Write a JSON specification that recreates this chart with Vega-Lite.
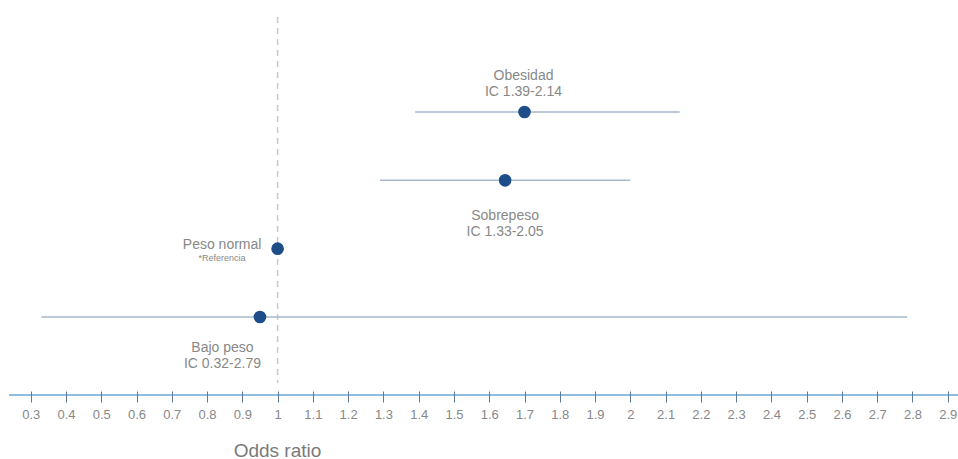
{
  "$schema": "https://vega.github.io/schema/vega-lite/v6.json",
  "width": 949,
  "height": 378,
  "autosize": {"type": "none"},
  "padding": {"left": 9, "top": 17, "right": 0, "bottom": 64},
  "background": "white",
  "config": {"view": {"stroke": null}, "font": "Liberation Sans"},
  "datasets": {
    "or": [
      {"grupo": "Obesidad", "or": 1.70, "lo": 1.39, "hi": 2.14, "etiqueta": "Obesidad\nIC 1.39-2.14"},
      {"grupo": "Sobrepeso", "or": 1.645, "lo": 1.29, "hi": 2.00, "etiqueta": "Sobrepeso\nIC 1.33-2.05"},
      {"grupo": "Peso normal", "or": 1.0, "lo": null, "hi": null, "etiqueta": "Peso normal", "nota": "*Referencia"},
      {"grupo": "Bajo peso", "or": 0.95, "lo": 0.33, "hi": 2.785, "etiqueta": "Bajo peso\nIC 0.32-2.79"}
    ]
  },
  "layer": [
    {
      "data": {"values": [{"ref": 1}]},
      "layer": [
        {
          "mark": {"type": "rule", "color": "#c9c9c9", "strokeWidth": 1.5, "strokeDash": [6, 5]},
          "encoding": {
            "x": {"field": "ref", "type": "quantitative"},
            "y": {"datum": 100, "type": "quantitative", "scale": {"domain": [0, 100]}, "axis": null},
            "y2": {"datum": 3.2}
          }
        },
        {
          "mark": {"type": "rule", "color": "#8fbde0", "strokeWidth": 2},
          "encoding": {
            "y": {"datum": 0, "type": "quantitative", "scale": {"domain": [0, 100]}, "axis": null}
          }
        }
      ]
    },
    {
      "data": {"name": "or"},
      "encoding": {
        "y": {
          "field": "grupo",
          "type": "nominal",
          "sort": ["Obesidad", "Sobrepeso", "Peso normal", "Bajo peso"],
          "scale": {"type": "point", "range": [95, 300], "padding": 0},
          "axis": null
        }
      },
      "layer": [
        {
          "mark": {"type": "rule", "color": "#a9b7ca", "strokeWidth": 1.5},
          "encoding": {
            "x": {
              "field": "lo",
              "type": "quantitative",
              "scale": {"domain": [0.2385, 2.929], "nice": false, "zero": false},
              "axis": {
                "title": "Odds ratio",
                "values": [0.3, 0.4, 0.5, 0.6, 0.7, 0.8, 0.9, 1, 1.1, 1.2, 1.3, 1.4, 1.5, 1.6, 1.7, 1.8, 1.9, 2, 2.1, 2.2, 2.3, 2.4, 2.5, 2.6, 2.7, 2.8, 2.9],
                "tickCount": 40,
                "format": "~g",
                "domain": false,
                "grid": false,
                "offset": -4,
                "tickSize": 11,
                "tickColor": "#5f7a96",
                "tickWidth": 1,
                "labelPadding": 6,
                "labelFontSize": 13,
                "labelColor": "#888888",
                "labelFont": "Liberation Sans",
                "labelFlush": false,
                "labelOverlap": false,
                "labelBound": false,
                "titleFontSize": 19,
                "titleFontWeight": "normal",
                "titleColor": "#7a7a7a",
                "titleFont": "Liberation Sans",
                "titleAnchor": null,
                "titleAlign": "center",
                "titleBaseline": "middle",
                "titleX": 268,
                "titleY": 59,
                "zindex": 1
              }
            },
            "x2": {"field": "hi"}
          }
        },
        {
          "mark": {"type": "circle", "size": 160, "color": "#1d4e89", "opacity": 1},
          "encoding": {
            "x": {"field": "or", "type": "quantitative"}
          }
        },
        {
          "transform": [{"filter": "datum.grupo === 'Obesidad'"}],
          "mark": {"type": "text", "fontSize": 14, "color": "#888888", "lineBreak": "\n", "lineHeight": 16, "baseline": "middle", "align": "center", "dx": -1, "dy": -36},
          "encoding": {"x": {"field": "or", "type": "quantitative"}, "text": {"field": "etiqueta"}}
        },
        {
          "transform": [{"filter": "datum.grupo === 'Sobrepeso'"}],
          "mark": {"type": "text", "fontSize": 14, "color": "#888888", "lineBreak": "\n", "lineHeight": 16, "baseline": "middle", "align": "center", "dx": 0, "dy": 36},
          "encoding": {"x": {"field": "or", "type": "quantitative"}, "text": {"field": "etiqueta"}}
        },
        {
          "transform": [{"filter": "datum.grupo === 'Bajo peso'"}],
          "mark": {"type": "text", "fontSize": 14, "color": "#888888", "lineBreak": "\n", "lineHeight": 16, "baseline": "middle", "align": "center", "dx": -37.5, "dy": 31},
          "encoding": {"x": {"field": "or", "type": "quantitative"}, "text": {"field": "etiqueta"}}
        },
        {
          "transform": [{"filter": "datum.grupo === 'Peso normal'"}],
          "mark": {"type": "text", "fontSize": 14, "color": "#888888", "baseline": "middle", "align": "center", "dx": -55.5, "dy": -4},
          "encoding": {"x": {"field": "or", "type": "quantitative"}, "text": {"field": "etiqueta"}}
        },
        {
          "transform": [{"filter": "datum.grupo === 'Peso normal'"}],
          "mark": {"type": "text", "fontSize": 9, "color": "#888888", "baseline": "middle", "align": "center", "dx": -55.5, "dy": 9},
          "encoding": {"x": {"field": "or", "type": "quantitative"}, "text": {"field": "nota"}}
        }
      ]
    }
  ],
  "resolve": {"scale": {"y": "independent"}}
}
